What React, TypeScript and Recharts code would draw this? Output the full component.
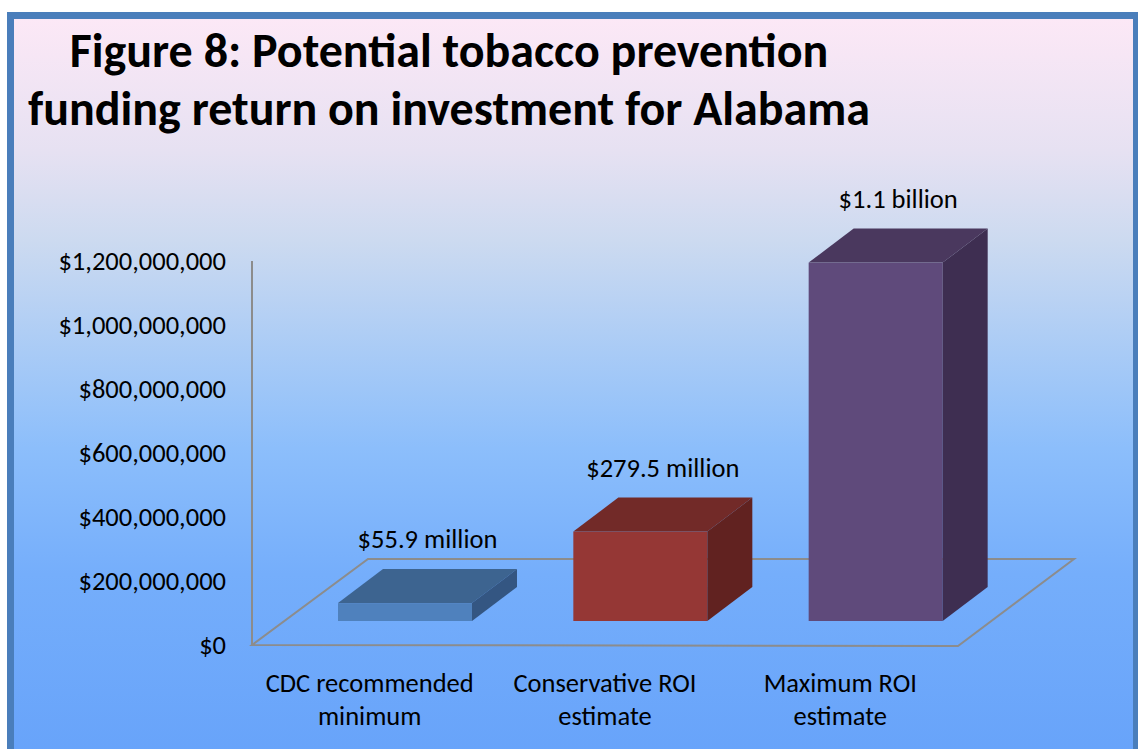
import React from 'react';
import {
  BarChart, Bar, XAxis, YAxis, LabelList, Customized, usePlotArea,
} from 'recharts';

// ─── Data ─────────────────────────────────────────────────────────────────────

const categories = ['CDC recommended minimum', 'Conservative ROI estimate', 'Maximum ROI estimate'];
const funding = [55900000, 279500000, 1120000000];
const yTicks = [0, 200000000, 400000000, 600000000, 800000000, 1000000000, 1200000000];
const axisLabelLines = [['CDC recommended', 'minimum'], ['Conservative ROI', 'estimate'], ['Maximum ROI', 'estimate']];

const faceColors = [
  { front: '#4f81bd', top: '#3d6490', side: '#345682' },
  { front: '#953735', top: '#722a28', side: '#612220' },
  { front: '#5f4a7b', top: '#4a385e', side: '#3e2e51' },
];

const rows = categories.map((name, i) => ({ name, value: funding[i], idx: i }));

// ─── 3D look ──────────────────────────────────────────────────────────────────

const FONT = 'Carlito, Lato, "Open Sans", sans-serif';
const LABEL_SIZE = 26.5;
const FLOOR_DX = 116;
const FLOOR_DY = 86;
const BAR_SHIFT_X = 35;
const BAR_SHIFT_Y = 24;
const DEPTH_X = 45;
const DEPTH_Y = 34;

function Box3D(props: any) {
  const { x, y, width, height, payload } = props;
  const c = faceColors[payload.idx];
  const fx = x + BAR_SHIFT_X;
  const fy = y - BAR_SHIFT_Y;
  const fb = fy + height;
  const rx = fx + width;
  return (
    <g>
      <rect x={fx} y={fy} width={width} height={height} fill={c.front} />
      <polygon
        points={`${fx},${fy} ${fx + DEPTH_X},${fy - DEPTH_Y} ${rx + DEPTH_X},${fy - DEPTH_Y} ${rx},${fy}`}
        fill={c.top}
      />
      <polygon
        points={`${rx},${fy} ${rx + DEPTH_X},${fy - DEPTH_Y} ${rx + DEPTH_X},${fb - DEPTH_Y} ${rx},${fb}`}
        fill={c.side}
      />
    </g>
  );
}

function Floor() {
  const area = usePlotArea();
  if (!area) return null;
  const { x, y, width, height } = area;
  const b = y + height;
  const pts = [
    [x, b],
    [x + FLOOR_DX, b - FLOOR_DY],
    [x + width + FLOOR_DX, b - FLOOR_DY],
    [x + width, b + 1],
  ].map((p) => p.join(',')).join(' ');
  return <polygon points={pts} fill="none" stroke="#8c8c8c" strokeWidth={2} />;
}

function ValueLabel(props: any) {
  const { x, y, width, value } = props;
  const text = value >= 1e9
    ? `$${(value / 1e9).toFixed(1)} billion`
    : `$${(value / 1e6).toFixed(1)} million`;
  return (
    <text
      x={x + BAR_SHIFT_X + width / 2 + DEPTH_X / 2}
      y={y - BAR_SHIFT_Y - DEPTH_Y - 30}
      textAnchor="middle"
      dominantBaseline="central"
      fontSize={LABEL_SIZE}
      fontFamily={FONT}
      fill="#000"
    >
      {text}
    </text>
  );
}

function CategoryTick(props: any) {
  const { x, y, index } = props;
  const lines = axisLabelLines[index] ?? [];
  return (
    <g>
      {lines.map((line, i) => (
        <text
          key={i}
          x={x}
          y={y + 30 + i * 33}
          textAnchor="middle"
          dominantBaseline="central"
          fontSize={LABEL_SIZE}
          fontFamily={FONT}
          fill="#000"
        >
          {line}
        </text>
      ))}
    </g>
  );
}

const money = (v: number) => `$${v.toLocaleString('en-US')}`;

export default function App() {
  return (
    <div
      style={{
        position: 'fixed', left: 0, top: 0, width: 1138, height: 749,
        background: '#fff', overflow: 'hidden',
      }}
    >
      <div
        style={{
          position: 'absolute', left: 7, top: 12, width: 1119, height: 740,
          border: '7px solid #4a7ebb',
          background: 'linear-gradient(to bottom, #fce8f6 0%, #e6e1f2 18%, #ccdaf0 30%, #a9cbf6 45%, #8cbefb 58%, #75aefb 75%, #67a3fa 100%)',
        }}
      />
      <div
        style={{
          position: 'absolute', left: 0, top: 22, width: 898, textAlign: 'center',
          fontFamily: FONT, fontWeight: 700, fontSize: 48, lineHeight: '58px', color: '#000',
        }}
      >
        <div>Figure 8: Potential tobacco prevention</div>
        <div>funding return on investment for Alabama</div>
      </div>
      <div style={{ position: 'absolute', left: 0, top: 0 }}>
        <BarChart
          width={1138}
          height={749}
          data={rows}
          margin={{ top: 261, right: 180, bottom: 0, left: 20 }}
        >
          <YAxis
            type="number"
            domain={[0, 1200000000]}
            ticks={yTicks}
            tickFormatter={money}
            width={232}
            tickLine={false}
            axisLine={{ stroke: '#8c8c8c', strokeWidth: 2 }}
            tickMargin={20}
            tick={{ fontSize: LABEL_SIZE, fontFamily: FONT, fill: '#000' }}
          />
          <XAxis
            dataKey="name"
            height={104}
            axisLine={false}
            tickLine={false}
            interval={0}
            tick={<CategoryTick />}
          />
          <Customized component={<Floor />} />
          <Bar dataKey="value" barSize={134} shape={<Box3D />} isAnimationActive={false}>
            <LabelList dataKey="value" content={<ValueLabel />} />
          </Bar>
        </BarChart>
      </div>
    </div>
  );
}
